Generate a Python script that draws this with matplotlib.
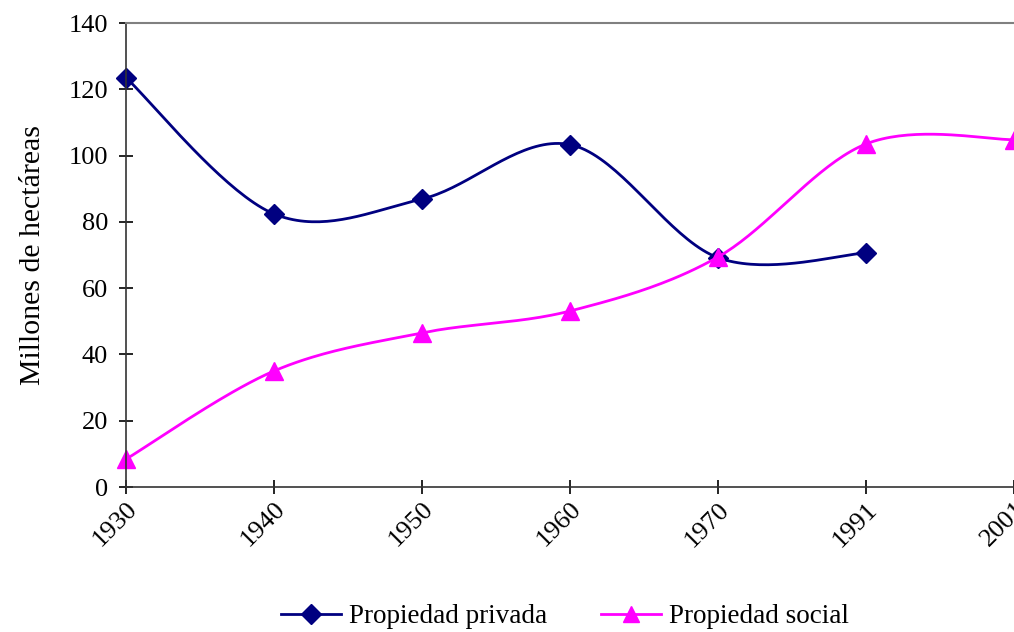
import numpy as np
import matplotlib
matplotlib.use("Agg")
import matplotlib.pyplot as plt

years = ["1930", "1940", "1950", "1960", "1970", "1991", "2001"]
privada = [123.5, 82.4, 86.9, 103.3, 69.2, 70.6]
social = [8.4, 35.0, 46.5, 53.1, 69.4, 103.5, 104.8]

plt.rcParams['font.family'] = ['Liberation Serif', 'DejaVu Serif']


def smooth(x, y, n=40):
    # excel-like smoothing: cubic bezier with catmull-rom control points
    x = np.asarray(x, float)
    y = np.asarray(y, float)
    pts = np.column_stack([x, y])
    out = []
    for i in range(len(pts) - 1):
        p0 = pts[i - 1] if i > 0 else pts[i]
        p1 = pts[i]
        p2 = pts[i + 1]
        p3 = pts[i + 2] if i + 2 < len(pts) else pts[i + 1]
        c1 = p1 + (p2 - p0) / 6
        c2 = p2 - (p3 - p1) / 6
        t = np.linspace(0, 1, n)[:, None]
        seg = (1 - t) ** 3 * p1 + 3 * (1 - t) ** 2 * t * c1 + 3 * (1 - t) * t ** 2 * c2 + t ** 3 * p2
        out.append(seg if i == 0 else seg[1:])
    s = np.vstack(out)
    return s[:, 0], s[:, 1]


fig = plt.figure(figsize=(10.14, 6.32), dpi=100)
ax = fig.add_axes([126 / 1014, 1 - 487 / 632, 1 - 126 / 1014, (487 - 23) / 632])

xp = np.arange(len(privada))
xs = np.arange(len(social))
sx, sy = smooth(xp, privada)
ax.plot(sx, sy, color="#000080", lw=2, clip_on=False)
ax.plot(xp, privada, ls="none", marker="D", ms=10, color="#000080", clip_on=False)
sx, sy = smooth(xs, social)
ax.plot(sx, sy, color="#ff00ff", lw=2, clip_on=False)
ax.plot(xs, social, ls="none", marker="^", ms=13, color="#ff00ff", clip_on=False)

# legend proxies
ax.plot([], [], color="#000080", lw=2, marker="D", ms=10, label="Propiedad privada")
ax.plot([], [], color="#ff00ff", lw=2, marker="^", ms=12, label="Propiedad social")

ax.set_xlim(0, len(years) - 1)
ax.set_ylim(0, 140)
ax.set_yticks(range(0, 141, 20))
ax.set_xticks(range(len(years)))
ax.set_xticklabels(years, rotation=45, ha="right", rotation_mode="anchor")
ax.tick_params(axis="both", direction="inout", length=10, width=1.2, labelsize=19, colors="black")
ax.tick_params(axis="x", pad=3)
ax.tick_params(axis="y", pad=8)

ax.spines["right"].set_visible(False)
ax.spines["top"].set_color("#808080")
ax.spines["top"].set_linewidth(1.5)
ax.spines["left"].set_linewidth(1.2)
ax.spines["bottom"].set_linewidth(1.2)
ax.spines["left"].set_color("#333333")
ax.spines["bottom"].set_color("#333333")

ax.set_ylabel("Millones de hectáreas", fontsize=21.5, labelpad=16)

fig.legend(loc="lower center", bbox_to_anchor=(0.557, -0.034), ncol=2, frameon=False,
           fontsize=19.5, handlelength=2.2, columnspacing=2.0, handletextpad=0.3)

fig.savefig("out.png", dpi=100)
